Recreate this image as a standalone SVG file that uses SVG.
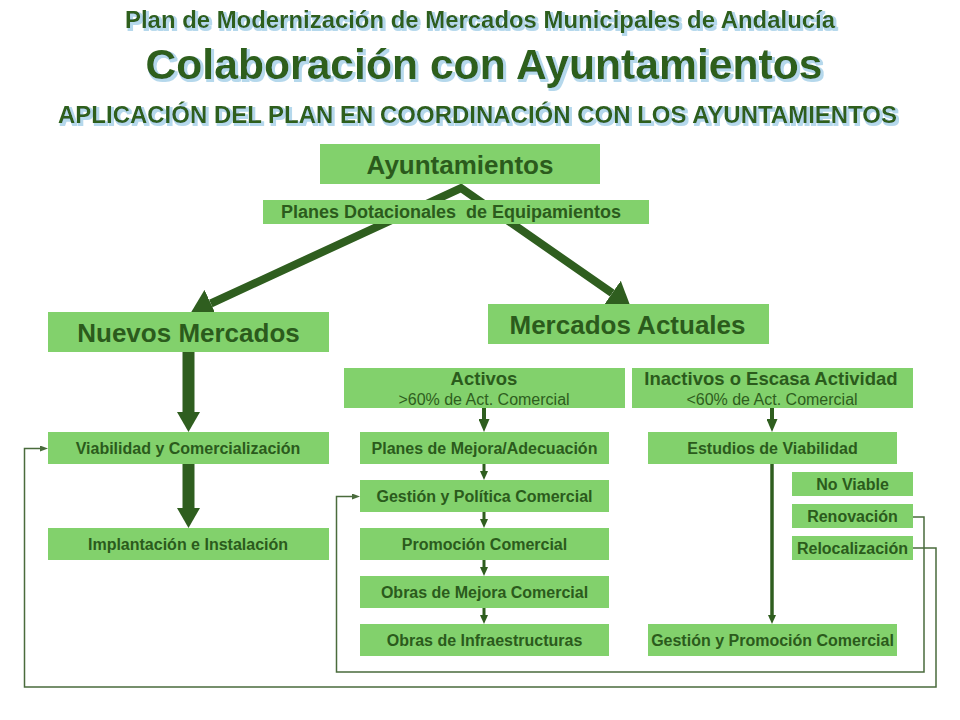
<svg xmlns="http://www.w3.org/2000/svg" width="960" height="720" viewBox="0 0 960 720">
<defs>
<style>
.bg{fill:#ffffff}
.box{fill:#82d16c}
.t{font-family:"Liberation Sans",Arial,sans-serif;font-weight:bold;fill:#2b5b1c;text-anchor:middle}
.big{font-size:26px}
.hd{font-size:18.5px}
.sm{font-size:16px}
.sub{font-family:"Liberation Sans",Arial,sans-serif;font-weight:normal;font-size:16px;fill:#2e5e20;text-anchor:middle}
.ti{font-family:"Liberation Sans",Arial,sans-serif;font-weight:bold;fill:#2d5f1c;text-anchor:middle;filter:url(#glow)}
.thick{fill:none;stroke:#2f5e1f}
.fb{fill:none;stroke:#4a6b3c;stroke-width:1.5}
.hf{fill:#2f5e1f}
.hfb{fill:#4a6b3c}
</style>
<filter id="glow" x="-5%" y="-30%" width="110%" height="160%">
<feMorphology in="SourceAlpha" operator="dilate" radius="0.8" result="d"/>
<feOffset in="d" dx="2" dy="2" result="o"/>
<feFlood flood-color="#b5d8ec"/>
<feComposite in2="o" operator="in" result="s"/>
<feMerge><feMergeNode in="s"/><feMergeNode in="SourceGraphic"/></feMerge>
</filter>
<marker id="mDiag" markerUnits="userSpaceOnUse" viewBox="0 0 22 30" markerWidth="22" markerHeight="30" refX="0" refY="15" orient="auto-start-reverse"><path class="hf" d="M0,0 L22,15 L0,30 Z"/></marker>
<marker id="mBig" markerUnits="userSpaceOnUse" viewBox="0 0 20 23" markerWidth="20" markerHeight="23" refX="0" refY="11.5" orient="auto"><path class="hf" d="M0,0 L20,11.5 L0,23 Z"/></marker>
<marker id="mMed" markerUnits="userSpaceOnUse" viewBox="0 0 13 11" markerWidth="13" markerHeight="11" refX="0" refY="5.5" orient="auto"><path class="hf" d="M0,0 L13,5.5 L0,11 Z"/></marker>
<marker id="mSm" markerUnits="userSpaceOnUse" viewBox="0 0 9 8" markerWidth="9" markerHeight="8" refX="0" refY="4" orient="auto"><path class="hf" d="M0,0 L9,4 L0,8 Z"/></marker>
<marker id="mFb" markerUnits="userSpaceOnUse" viewBox="0 0 8 6" markerWidth="8" markerHeight="6" refX="0" refY="3" orient="auto"><path class="hfb" d="M0,0 L8,3 L0,6 Z"/></marker>
</defs>
<rect class="bg" x="0" y="0" width="960" height="720"/>

<g id="titles">
<text class="ti" x="480" y="27.5" font-size="23" textLength="710" lengthAdjust="spacingAndGlyphs">Plan de Modernización de Mercados Municipales de Andalucía</text>
<text class="ti" x="484" y="79" font-size="42.5" textLength="677" lengthAdjust="spacingAndGlyphs">Colaboración con Ayuntamientos</text>
<text class="ti" x="477.5" y="123" font-size="23.5" textLength="839" lengthAdjust="spacingAndGlyphs">APLICACIÓN DEL PLAN EN COORDINACIÓN CON LOS AYUNTAMIENTOS</text>
</g>

<g id="connectors">
<path class="thick" stroke-width="8" stroke-linejoin="miter" d="M210.8,303.5 L461,188 L612.2,293.1" marker-start="url(#mDiag)" marker-end="url(#mDiag)"/>
<path class="thick" stroke-width="12" d="M188.5,352 V412" marker-end="url(#mBig)"/>
<path class="thick" stroke-width="12" d="M188.5,464 V508" marker-end="url(#mBig)"/>
<path class="thick" stroke-width="4" d="M484,408 V419" marker-end="url(#mMed)"/>
<path class="thick" stroke-width="4" d="M772,408 V419" marker-end="url(#mMed)"/>
<path class="thick" stroke-width="3" d="M484,464 V471" marker-end="url(#mSm)"/>
<path class="thick" stroke-width="3" d="M484,512 V519" marker-end="url(#mSm)"/>
<path class="thick" stroke-width="3" d="M484,560 V567" marker-end="url(#mSm)"/>
<path class="thick" stroke-width="3" d="M484,608 V615" marker-end="url(#mSm)"/>
<path class="thick" stroke-width="3.5" d="M772,464 V615" marker-end="url(#mSm)"/>
<path class="fb" d="M913,517 H924 V672 H336.5 V496.5 H352" marker-end="url(#mFb)"/>
<path class="fb" d="M913,548 H936 V687 H24.5 V448.5 H40" marker-end="url(#mFb)"/>
</g>

<g id="n-ayuntamientos"><rect class="box" x="320" y="144" width="280" height="40"/><text class="t big" x="460" y="174">Ayuntamientos</text></g>
<g id="n-planes-dotacionales"><rect class="box" x="263" y="200" width="386" height="24"/><text class="t" font-size="18" x="451" y="218" style="white-space:pre" xml:space="preserve">Planes Dotacionales  de Equipamientos</text></g>
<g id="n-nuevos"><rect class="box" x="48" y="312" width="281" height="40"/><text class="t big" x="188.5" y="342">Nuevos Mercados</text></g>
<g id="n-actuales"><rect class="box" x="488" y="304" width="281" height="40"/><text class="t big" x="627.5" y="334">Mercados Actuales</text></g>
<g id="n-activos"><rect class="box" x="344" y="368" width="281" height="40"/><text class="t hd" x="484" y="385">Activos</text><text class="sub" x="484" y="405">&gt;60% de Act. Comercial</text></g>
<g id="n-inactivos"><rect class="box" x="632" y="368" width="281" height="40"/><text class="t hd" x="771" y="385">Inactivos o Escasa Actividad</text><text class="sub" x="772" y="405">&lt;60% de Act. Comercial</text></g>
<g id="n-viabilidad"><rect class="box" x="48" y="432" width="281" height="32"/><text class="t sm" x="188" y="454">Viabilidad y Comercialización</text></g>
<g id="n-implantacion"><rect class="box" x="48" y="528" width="281" height="32"/><text class="t sm" x="188" y="550">Implantación e Instalación</text></g>
<g id="n-planes-mejora"><rect class="box" x="360" y="432" width="249" height="32"/><text class="t sm" x="484.5" y="454">Planes de Mejora/Adecuación</text></g>
<g id="n-gestion-politica"><rect class="box" x="360" y="480" width="249" height="32"/><text class="t sm" x="484.5" y="502">Gestión y Política Comercial</text></g>
<g id="n-promocion"><rect class="box" x="360" y="528" width="249" height="32"/><text class="t sm" x="484.5" y="550">Promoción Comercial</text></g>
<g id="n-obras-mejora"><rect class="box" x="360" y="576" width="249" height="32"/><text class="t sm" x="484.5" y="598">Obras de Mejora Comercial</text></g>
<g id="n-obras-infra"><rect class="box" x="360" y="624" width="249" height="32"/><text class="t sm" x="484.5" y="646">Obras de Infraestructuras</text></g>
<g id="n-estudios"><rect class="box" x="648" y="432" width="249" height="32"/><text class="t sm" x="772.5" y="454">Estudios de Viabilidad</text></g>
<g id="n-no-viable"><rect class="box" x="792" y="472" width="121" height="24"/><text class="t sm" x="852.5" y="490">No Viable</text></g>
<g id="n-renovacion"><rect class="box" x="792" y="504" width="121" height="24"/><text class="t sm" x="852.5" y="522">Renovación</text></g>
<g id="n-relocalizacion"><rect class="box" x="792" y="536" width="121" height="24"/><text class="t sm" x="852.5" y="554">Relocalización</text></g>
<g id="n-gestion-promocion"><rect class="box" x="648" y="624" width="249" height="32"/><text class="t sm" x="772.5" y="646">Gestión y Promoción Comercial</text></g>
</svg>
